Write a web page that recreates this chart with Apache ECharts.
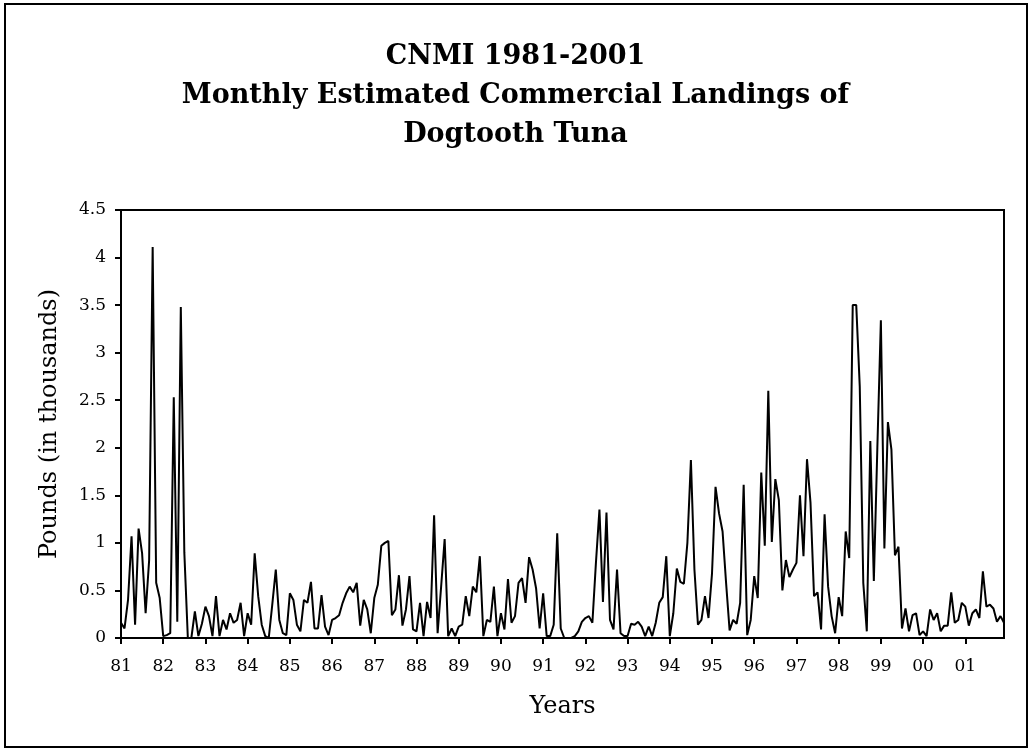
<!DOCTYPE html>
<html>
<head>
<meta charset="utf-8">
<script src="https://cdn.jsdelivr.net/npm/echarts@6/dist/echarts.min.js"></script>
<style>
  html, body { margin: 0; padding: 0; background: #fff; }
  #frame { position: absolute; left: 4px; top: 3px; width: 1020px; height: 741px; border: 2px solid #000; }
  #main { position: absolute; left: 0; top: 0; width: 1031px; height: 750px; }
</style>
</head>
<body>
<div id="frame"></div>
<div id="main"></div>
<script>
// monthly landings (thousand lbs), Jan..Dec of each year
var y81 = [0.16, 0.1, 0.4, 1.07, 0.14, 1.15, 0.89, 0.26, 0.82, 4.11, 0.58, 0.42];
var y82 = [0.02, 0.03, 0.05, 2.53, 0.17, 3.48, 0.9, 0, 0, 0.28, 0.02, 0.15];
var y83 = [0.33, 0.23, 0.02, 0.44, 0.02, 0.19, 0.09, 0.26, 0.16, 0.19, 0.37, 0.02];
var y84 = [0.26, 0.14, 0.89, 0.44, 0.14, 0.02, 0, 0.35, 0.72, 0.19, 0.05, 0.03];
var y85 = [0.47, 0.4, 0.14, 0.07, 0.4, 0.37, 0.59, 0.1, 0.1, 0.45, 0.12, 0.03];
var y86 = [0.19, 0.21, 0.24, 0.37, 0.47, 0.54, 0.48, 0.58, 0.13, 0.4, 0.3, 0.05];
var y87 = [0.42, 0.56, 0.97, 1.0, 1.02, 0.24, 0.3, 0.66, 0.13, 0.3, 0.65, 0.09];
var y88 = [0.07, 0.37, 0.02, 0.38, 0.21, 1.29, 0.05, 0.54, 1.04, 0.02, 0.1, 0.02];
var y89 = [0.12, 0.14, 0.44, 0.23, 0.54, 0.48, 0.86, 0.02, 0.19, 0.17, 0.54, 0.02];
var y90 = [0.26, 0.09, 0.62, 0.16, 0.23, 0.58, 0.63, 0.37, 0.85, 0.72, 0.52, 0.1];
var y91 = [0.47, 0.02, 0.02, 0.14, 1.1, 0.1, 0, 0, 0, 0.02, 0.07, 0.17];
var y92 = [0.21, 0.23, 0.16, 0.79, 1.35, 0.38, 1.32, 0.19, 0.09, 0.72, 0.05, 0.02];
var y93 = [0.02, 0.15, 0.14, 0.17, 0.12, 0.02, 0.12, 0.02, 0.16, 0.37, 0.43, 0.86];
var y94 = [0.02, 0.26, 0.73, 0.59, 0.57, 1.0, 1.87, 0.72, 0.14, 0.19, 0.44, 0.21];
var y95 = [0.68, 1.59, 1.31, 1.12, 0.58, 0.08, 0.19, 0.15, 0.37, 1.61, 0.03, 0.19];
var y96 = [0.65, 0.42, 1.74, 0.97, 2.6, 1.01, 1.67, 1.45, 0.5, 0.82, 0.64, 0.72];
var y97 = [0.79, 1.5, 0.86, 1.88, 1.42, 0.44, 0.48, 0.09, 1.3, 0.54, 0.23, 0.05];
var y98 = [0.43, 0.23, 1.12, 0.84, 3.5, 3.5, 2.64, 0.58, 0.07, 2.07, 0.6, 2.0];
var y99 = [3.34, 0.94, 2.27, 1.98, 0.87, 0.96, 0.1, 0.31, 0.07, 0.24, 0.26, 0.03];
var y00 = [0.07, 0.02, 0.3, 0.19, 0.26, 0.07, 0.13, 0.13, 0.48, 0.16, 0.19, 0.37];
var y01 = [0.33, 0.13, 0.26, 0.3, 0.21, 0.7, 0.33, 0.35, 0.31, 0.17, 0.23, 0.16];

var yearLabels = ['81','82','83','84','85','86','87','88','89','90','91',
                  '92','93','94','95','96','97','98','99','00','01'];
var yearly = [y81, y82, y83, y84, y85, y86, y87, y88, y89, y90, y91,
              y92, y93, y94, y95, y96, y97, y98, y99, y00, y01];

var months = [];
var values = [];
yearly.forEach(function (arr, k) {
  arr.forEach(function (v, m) {
    months.push(yearLabels[k] + '-' + (m + 1));
    values.push(v);
  });
});

var serif = 'DejaVu Serif';
var chart = echarts.init(document.getElementById('main'));
chart.setOption({
  animation: false,
  backgroundColor: 'transparent',
  title: {
    text: 'CNMI 1981-2001\nMonthly Estimated Commercial Landings of\nDogtooth Tuna',
    left: 'center',
    top: 32,
    textStyle: {
      fontFamily: serif,
      fontWeight: 'bold',
      fontSize: 27,
      lineHeight: 39,
      color: '#000'
    }
  },
  grid: {
    left: 121, right: 27, top: 210, bottom: 112,
    show: true,
    borderColor: '#000',
    borderWidth: 2,
    backgroundColor: 'transparent'
  },
  xAxis: {
    type: 'category',
    data: months,
    boundaryGap: false,
    name: 'Years',
    nameLocation: 'middle',
    nameGap: 57,
    nameTextStyle: { fontFamily: serif, fontSize: 24, color: '#000' },
    axisLine: { lineStyle: { color: '#000', width: 2 } },
    axisTick: {
      length: 6,
      lineStyle: { color: '#000', width: 2 },
      interval: function (i) { return i % 12 === 0; }
    },
    axisLabel: {
      margin: 20,
      fontFamily: serif,
      fontSize: 17,
      color: '#000',
      interval: function (i) { return i % 12 === 0; },
      formatter: function (v) { return v.split('-')[0]; }
    },
    splitLine: { show: false }
  },
  yAxis: {
    type: 'value',
    min: 0,
    max: 4.5,
    interval: 0.5,
    name: 'Pounds (in thousands)',
    nameLocation: 'middle',
    nameGap: 59,
    nameTextStyle: { fontFamily: serif, fontSize: 24, color: '#000' },
    axisLine: { show: true, lineStyle: { color: '#000', width: 2 } },
    axisTick: { show: true, length: 6, lineStyle: { color: '#000', width: 2 } },
    axisLabel: { margin: 15, fontFamily: serif, fontSize: 17, color: '#000' },
    splitLine: { show: false }
  },
  series: [{
    type: 'line',
    data: values,
    showSymbol: false,
    lineStyle: { color: '#000', width: 2 },
    itemStyle: { color: '#000' }
  }]
});
</script>
</body>
</html>
